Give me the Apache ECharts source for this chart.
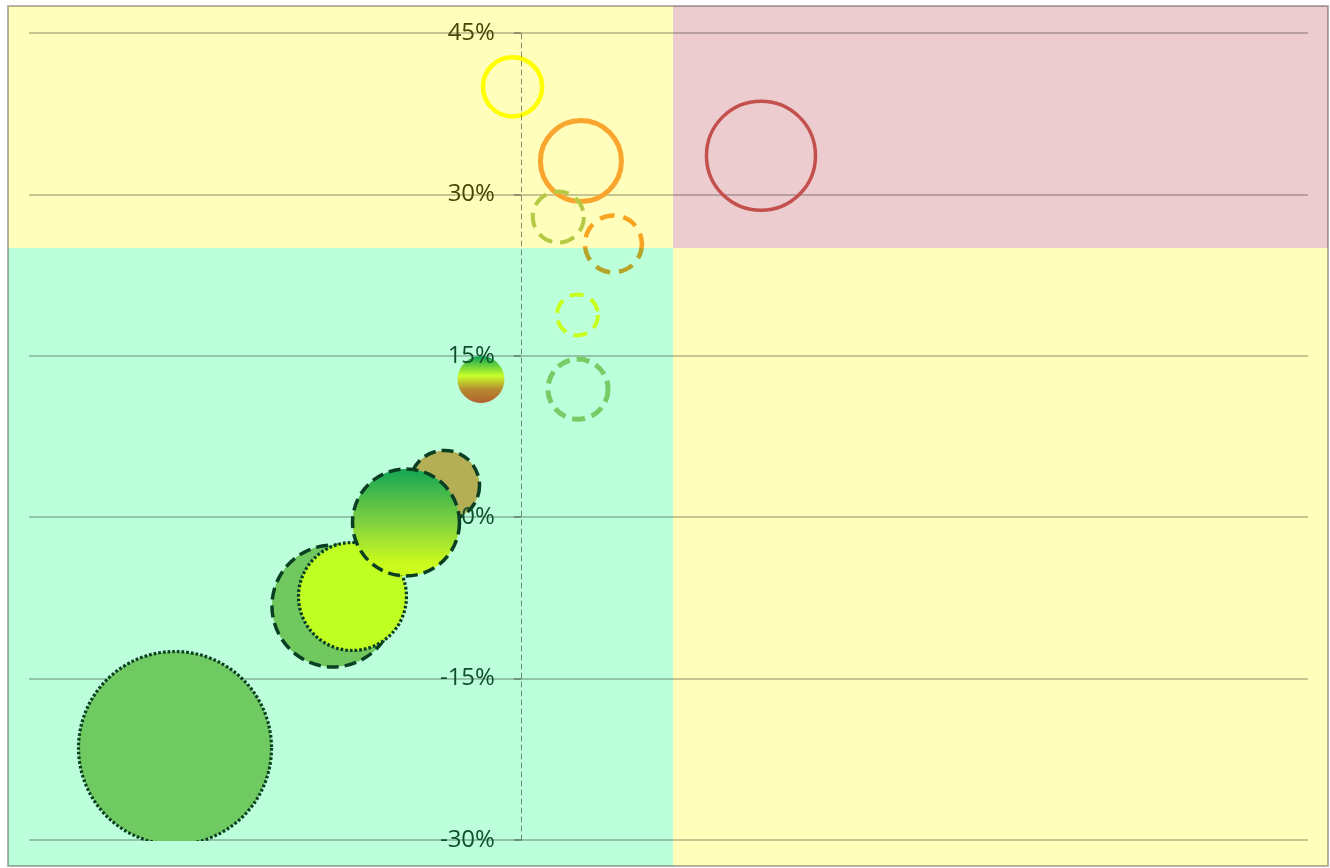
<!DOCTYPE html>
<html>
<head>
<meta charset="utf-8">
<script src="https://cdn.jsdelivr.net/npm/echarts@6/dist/echarts.min.js"></script>
<style>
  html, body { margin: 0; padding: 0; background: #ffffff; }
  #chart { width: 1330px; height: 868px; }
</style>
</head>
<body>
<div id="chart"></div>
<script>
// Bubble positions (x in %, y in %) and bubble sizes, in drawing order
const xValues = [-35.16, -19.1, -17.12, -7.77, -11.68, -4.06, 5.8, 5.75, 6.1, 3.8, 9.4, -0.85, 24.4];
const yValues = [-21.45, -8.25, -7.37, 2.95, -0.49, 12.8, 11.9, 18.8, 33.1, 27.9, 25.4, 40.0, 33.6];
const bubbleSizes = [100, 40.0, 31.3, 13.2, 30.7, 5.9, 9.7, 4.5, 17.6, 7.0, 8.7, 9.4, 31.9];

// Value axis ticks
const yTickValues = [-30, -15, 0, 15, 30, 45];
const xRange = [-50, 80];

// Quadrant split values
const xSplit = 15.5;
const ySplit = 25;

const gridLeft = 29;
const darkEdge = '#0B3F23';
const dotted = [2.7, 2.0];
const dashedDark = [12, 6];

// One style per bubble, same order as the arrays above
const bubbleStyles = [
  { color: '#70CA62', borderColor: darkEdge, borderWidth: 3.2, borderType: dotted },
  { color: '#70C85F', borderColor: darkEdge, borderWidth: 3.5, borderType: dashedDark },
  { color: '#BFFF22', borderColor: darkEdge, borderWidth: 3.2, borderType: dotted },
  { color: '#B4AE55', borderColor: darkEdge, borderWidth: 3.5, borderType: dashedDark },
  {
    color: new echarts.graphic.LinearGradient(0, 0, 0, 1, [
      { offset: 0, color: '#10A453' },
      { offset: 0.5, color: '#80D140' },
      { offset: 0.85, color: '#C8F91E' },
      { offset: 1, color: '#CFFF1A' }
    ]),
    borderColor: darkEdge, borderWidth: 3.5, borderType: dashedDark
  },
  {
    color: new echarts.graphic.LinearGradient(0, 0, 0, 1, [
      { offset: 0, color: '#0CA352' },
      { offset: 0.42, color: '#C8FF2A' },
      { offset: 0.72, color: '#B58A30' },
      { offset: 1, color: '#B4602E' }
    ]),
    borderWidth: 0
  },
  { color: 'transparent', borderColor: '#77CC66', borderWidth: 5, borderType: [13, 7] },
  { color: 'transparent', borderColor: '#C8FF1E', borderWidth: 4, borderType: [14, 8] },
  { color: 'transparent', borderColor: '#F9A52E', borderWidth: 5, borderType: 'solid' },
  { color: 'transparent', borderColor: '#B6C944', borderWidth: 4, borderType: [15, 8] },
  { color: 'transparent', borderColor: '#F9A52E', borderWidth: 4.5, borderType: [15, 9], blend: 'multiply' },
  { color: 'transparent', borderColor: '#FFFF00', borderWidth: 4.5, borderType: 'solid' },
  { color: 'transparent', borderColor: '#C4504D', borderWidth: 3.5, borderType: 'solid' }
];

// Bubble diameter grows with the square root of its size value
const sizeToDiameter = v => 19.3 * Math.sqrt(v);

const labelFont = { fontFamily: 'Open Sans', fontSize: 24 };

const series = xValues.map((x, i) => {
  const st = bubbleStyles[i];
  const s = {
    type: 'scatter',
    xAxisIndex: 0,
    yAxisIndex: 0,
    symbol: 'circle',
    clip: true,
    z: 2 + i * 0.01,
    data: [[x, yValues[i], bubbleSizes[i]]],
    symbolSize: d => sizeToDiameter(d[2]),
    itemStyle: {
      color: st.color,
      borderColor: st.borderColor || 'transparent',
      borderWidth: st.borderWidth,
      borderType: st.borderType,
      opacity: 1
    },
    emphasis: { disabled: true }
  };
  if (st.blend) s.blendMode = st.blend;
  return s;
});

const chart = echarts.init(document.getElementById('chart'), null, { renderer: 'canvas' });

const yAxisBase = {
  type: 'value',
  min: yTickValues[0],
  max: yTickValues[yTickValues.length - 1],
  interval: yTickValues[1] - yTickValues[0],
  position: 'left'
};

chart.setOption({
  animation: false,
  backgroundColor: '#ffffff',
  grid: { left: gridLeft, right: 22, top: 33, bottom: 28, containLabel: false, outerBoundsMode: 'none' },
  xAxis: {
    type: 'value',
    min: xRange[0],
    max: xRange[1],
    show: true,
    axisLine: { show: false },
    axisTick: { show: false },
    axisLabel: { show: false },
    splitLine: { show: false }
  },
  yAxis: [
    // axis through x = 0 with its labels, drawn above the bubbles
    Object.assign({}, yAxisBase, {
      z: 10,
      offset: 0,
      axisLine: { show: true, onZero: false, lineStyle: { color: 'rgba(0,0,0,0.45)', width: 1, type: [5, 4] } },
      axisTick: { show: true, length: 7, lineStyle: { color: 'rgba(0,0,0,0.35)', width: 1.5 } },
      splitLine: { show: false },
      axisLabel: Object.assign({
        show: true,
        margin: 26,
        formatter: '{value}%',
        color: v => (Number(v) >= ySplit ? '#4A4505' : '#104E2D')
      }, labelFont)
    }),
    // horizontal grid lines, kept underneath the bubbles
    Object.assign({}, yAxisBase, {
      z: 0,
      axisLine: { show: false },
      axisTick: { show: false },
      axisLabel: { show: false },
      splitLine: { show: true, lineStyle: { color: 'rgba(0,0,0,0.3)', width: 1.5 } }
    })
  ],
  series: series
});

// Move the labelled axis so it crosses the x scale at zero
const zeroPx = chart.convertToPixel({ xAxisIndex: 0 }, 0);
chart.setOption({ yAxis: [{ offset: -(zeroPx - gridLeft) }, {}] });

// Quadrant backgrounds behind the plot, split at the data values xSplit / ySplit
const split = chart.convertToPixel({ xAxisIndex: 0, yAxisIndex: 0 }, [xSplit, ySplit]);
const bottomPx = chart.convertToPixel({ yAxisIndex: 0 }, yTickValues[0]);
const box = { x0: 8, y0: 6, x1: 1328, y1: 866 };
const sx = Math.round(split[0]);
const sy = Math.round(split[1]);
const cut = Math.round(bottomPx) + 1;

const quad = (x, y, w, h, fill, z) => ({
  type: 'rect',
  z: z,
  silent: true,
  shape: { x: x, y: y, width: w, height: h },
  style: { fill: fill }
});

chart.setOption({
  graphic: [
    quad(box.x0, box.y0, sx - box.x0, sy - box.y0, '#FFFFBB', -10),
    quad(sx, box.y0, box.x1 - sx, sy - box.y0, '#ECCCCE', -10),
    quad(box.x0, sy, sx - box.x0, box.y1 - sy, '#BBFFDB', -10),
    quad(sx, sy, box.x1 - sx, box.y1 - sy, '#FFFFBB', -10),
    // strip below the plot floor so bubbles stop at the lowest grid line
    quad(box.x0, cut, sx - box.x0, box.y1 - cut, '#BBFFDB', 5),
    quad(sx, cut, box.x1 - sx, box.y1 - cut, '#FFFFBB', 5),
    {
      type: 'rect',
      z: 6,
      silent: true,
      shape: { x: box.x0, y: box.y0, width: box.x1 - box.x0, height: box.y1 - box.y0 },
      style: { fill: 'none', stroke: 'rgba(0,0,0,0.3)', lineWidth: 2 }
    }
  ]
});
</script>
</body>
</html>
